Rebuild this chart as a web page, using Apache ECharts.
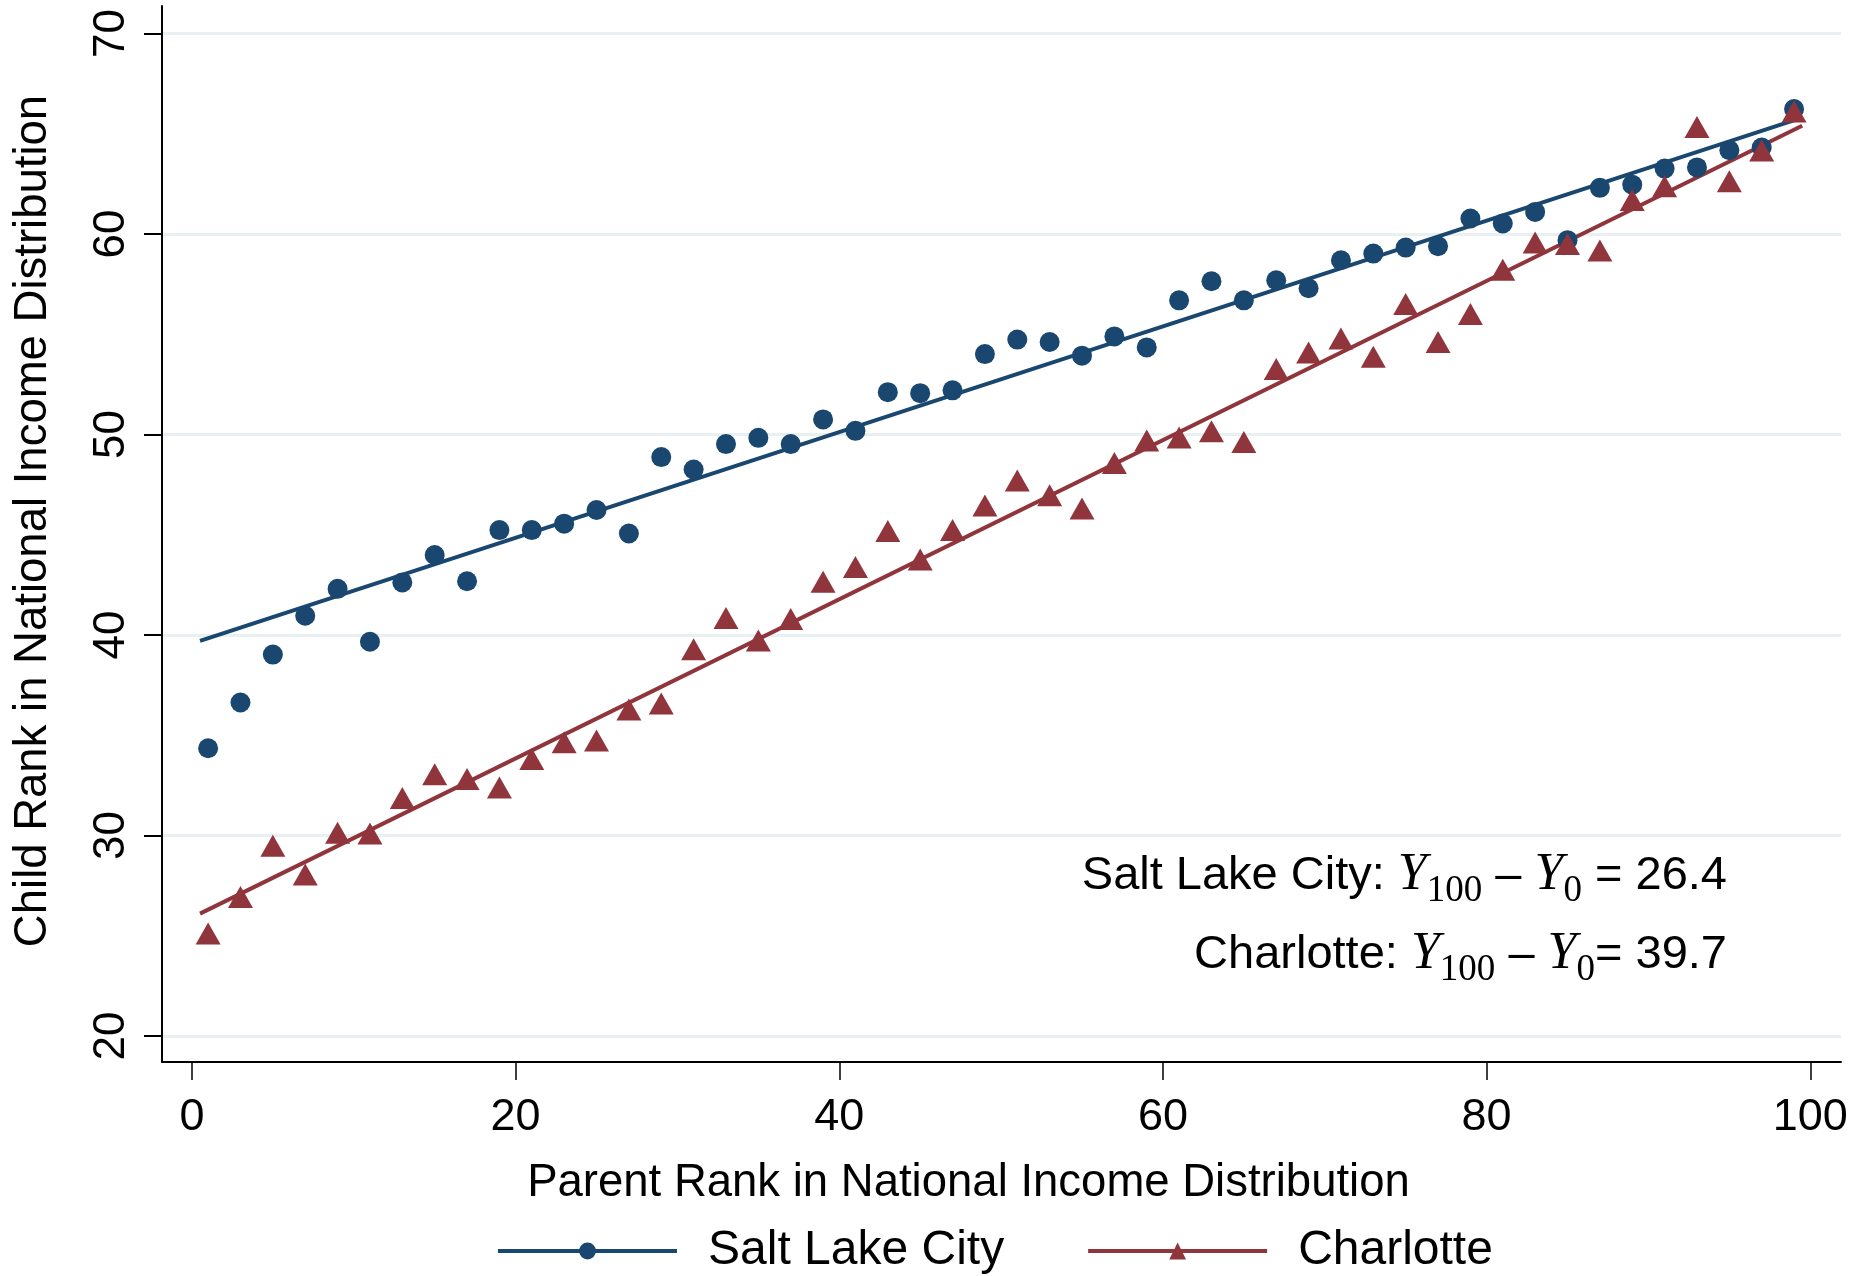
<!DOCTYPE html>
<html>
<head>
<meta charset="utf-8">
<script src="https://cdn.jsdelivr.net/npm/echarts@6/dist/echarts.min.js"></script>
<style>
html,body{margin:0;padding:0;background:#ffffff;}
#chart{width:1863px;height:1276px;}
</style>
</head>
<body>
<div id="chart"></div>
<script>
// ---- data ----
const parentRank = [1, 3, 5, 7, 9, 11, 13, 15, 17, 19, 21, 23, 25, 27, 29, 31, 33, 35, 37, 39,
  41, 43, 45, 47, 49, 51, 53, 55, 57, 59, 61, 63, 65, 67, 69, 71, 73, 75, 77, 79,
  81, 83, 85, 87, 89, 91, 93, 95, 97, 99];

const saltLakeCity = [34.35, 36.63, 39.02, 40.96, 42.3, 39.66, 42.62, 43.99, 42.68, 45.23,
  45.23, 45.55, 46.23, 45.06, 48.87, 48.25, 49.52, 49.83, 49.52, 50.75,
  50.18, 52.11, 52.06, 52.2, 54.01, 54.73, 54.61, 53.93, 54.89, 54.34,
  56.69, 57.64, 56.69, 57.69, 57.29, 58.69, 59.02, 59.32, 59.39, 60.77,
  60.52, 61.1, 59.69, 62.3, 62.46, 63.26, 63.32, 64.18, 64.31, 66.23];

const charlotte = [25.11, 26.93, 29.48, 28.05, 30.14, 30.1, 31.87, 33.05, 32.82, 32.39,
  33.81, 34.65, 34.74, 36.28, 36.58, 39.29, 40.85, 39.72, 40.8, 42.65,
  43.39, 45.19, 43.76, 45.24, 46.46, 47.7, 46.97, 46.31, 48.58, 49.7,
  49.85, 50.16, 49.62, 53.26, 54.09, 54.78, 53.88, 56.51, 54.61, 56.01,
  58.22, 59.57, 59.5, 59.17, 61.7, 62.38, 65.33, 62.63, 64.16, 66.11];

// fitted-line end points
const fitX = [0.5, 99.5];
const saltLakeFit = [39.7, 65.8];
const charlotteFit = [26.1, 65.4];

const xTicks = [0, 20, 40, 60, 80, 100];
const yTicks = [20, 30, 40, 50, 60, 70];

const seriesNames = ['Salt Lake City', 'Charlotte'];
const gapLabels = ['= 26.4', '= 39.7'];

// ---- chart ----
const NAVY = '#1a476f';
const MAROON = '#90353b';
const SANS = '"Liberation Sans", Arial, Helvetica, sans-serif';
const SERIF = '"Liberation Serif", "Times New Roman", serif';

const chart = echarts.init(document.getElementById('chart'), null, {renderer: 'canvas'});

function pairs(xs, ys) { return xs.map((x, i) => [x, ys[i]]); }

function annotation(label, value, gapBeforeEq) {
  return '{t|' + label + ' }{y|Y}{s|100}{t| \u2013 }{y|Y}{s|0}{t|' + (gapBeforeEq ? ' ' : '') + value + '}';
}
const rich = {
  t: {fontFamily: SANS, fontSize: 47, lineHeight: 47, color: '#000', padding: [0, 0, 10, 0], verticalAlign: 'bottom'},
  y: {fontFamily: SERIF, fontStyle: 'italic', fontSize: 52, lineHeight: 52, color: '#000', padding: [0, 0, 9, 0], verticalAlign: 'bottom'},
  s: {fontFamily: SERIF, fontSize: 37, lineHeight: 37, color: '#000', verticalAlign: 'bottom'}
};

const option = {
  animation: false,
  backgroundColor: '#ffffff',
  grid: {left: 162, right: 22, top: 6, bottom: 214, containLabel: false, outerBoundsMode: 'none'},
  xAxis: {
    type: 'value', min: -1.85, max: 101.9,
    name: 'Parent Rank in National Income Distribution',
    nameLocation: 'middle', nameGap: 98, nameMoveOverlap: false,
    nameTextStyle: {fontFamily: SANS, fontSize: 45.5, color: '#000', padding: [0, 66, 0, 0]},
    axisLine: {show: true, onZero: false, lineStyle: {color: '#000', width: 2}},
    axisTick: {show: true, length: 18, customValues: xTicks, lineStyle: {color: '#000', width: 1.5}},
    axisLabel: {customValues: xTicks, margin: 33, fontFamily: SANS, fontSize: 45, color: '#000'},
    splitLine: {show: false}
  },
  yAxis: {
    type: 'value', min: 18.7, max: 71.37,
    name: 'Child Rank in National Income Distribution',
    nameLocation: 'middle', nameGap: 106, nameMoveOverlap: false,
    nameTextStyle: {fontFamily: SANS, fontSize: 45.5, color: '#000', padding: [0, 0, 0, 26]},
    axisLine: {show: true, onZero: false, lineStyle: {color: '#000', width: 2}},
    axisTick: {show: true, length: 18, customValues: yTicks, lineStyle: {color: '#000', width: 2}},
    axisLabel: {customValues: yTicks, rotate: 90, margin: 28, fontFamily: SANS, fontSize: 44, color: '#000'},
    splitLine: {show: true, lineStyle: {color: '#e8f0f2', width: 3}}
  },
  legend: {
    left: 491, top: 1222,
    itemWidth: 179, itemHeight: 21, itemGap: 82,
    textStyle: {fontFamily: SANS, fontSize: 48, color: '#000', padding: [0, 0, 0, 26]},
    data: [
      {name: seriesNames[0], lineStyle: {color: NAVY, width: 4, opacity: 1}, itemStyle: {color: NAVY}},
      {name: seriesNames[1], lineStyle: {color: MAROON, width: 4, opacity: 1}, itemStyle: {color: MAROON}}
    ]
  },
  series: [
    {
      name: seriesNames[0], type: 'line', data: pairs(parentRank, saltLakeCity),
      symbol: 'circle', symbolSize: 20, showSymbol: true,
      lineStyle: {width: 0, opacity: 0}, itemStyle: {color: NAVY}, emphasis: {disabled: true}
    },
    {
      name: seriesNames[1], type: 'line', data: pairs(parentRank, charlotte),
      symbol: 'triangle', symbolSize: [25, 22], showSymbol: true,
      lineStyle: {width: 0, opacity: 0}, itemStyle: {color: MAROON}, emphasis: {disabled: true}
    },
    {
      name: 'Salt Lake City fit', type: 'line', data: pairs(fitX, saltLakeFit),
      symbol: 'none', lineStyle: {color: NAVY, width: 4}, emphasis: {disabled: true}
    },
    {
      name: 'Charlotte fit', type: 'line', data: pairs(fitX, charlotteFit),
      symbol: 'none', lineStyle: {color: MAROON, width: 4}, emphasis: {disabled: true}
    }
  ],
  graphic: [
    {type: 'text', x: 1727, y: 910, z: 100,
      style: {text: annotation(seriesNames[0] + ':', gapLabels[0], true), rich: rich, align: 'right', verticalAlign: 'bottom'}},
    {type: 'text', x: 1727, y: 989, z: 100,
      style: {text: annotation(seriesNames[1] + ':', gapLabels[1], false), rich: rich, align: 'right', verticalAlign: 'bottom'}}
  ]
};
chart.setOption(option);
</script>
</body>
</html>
